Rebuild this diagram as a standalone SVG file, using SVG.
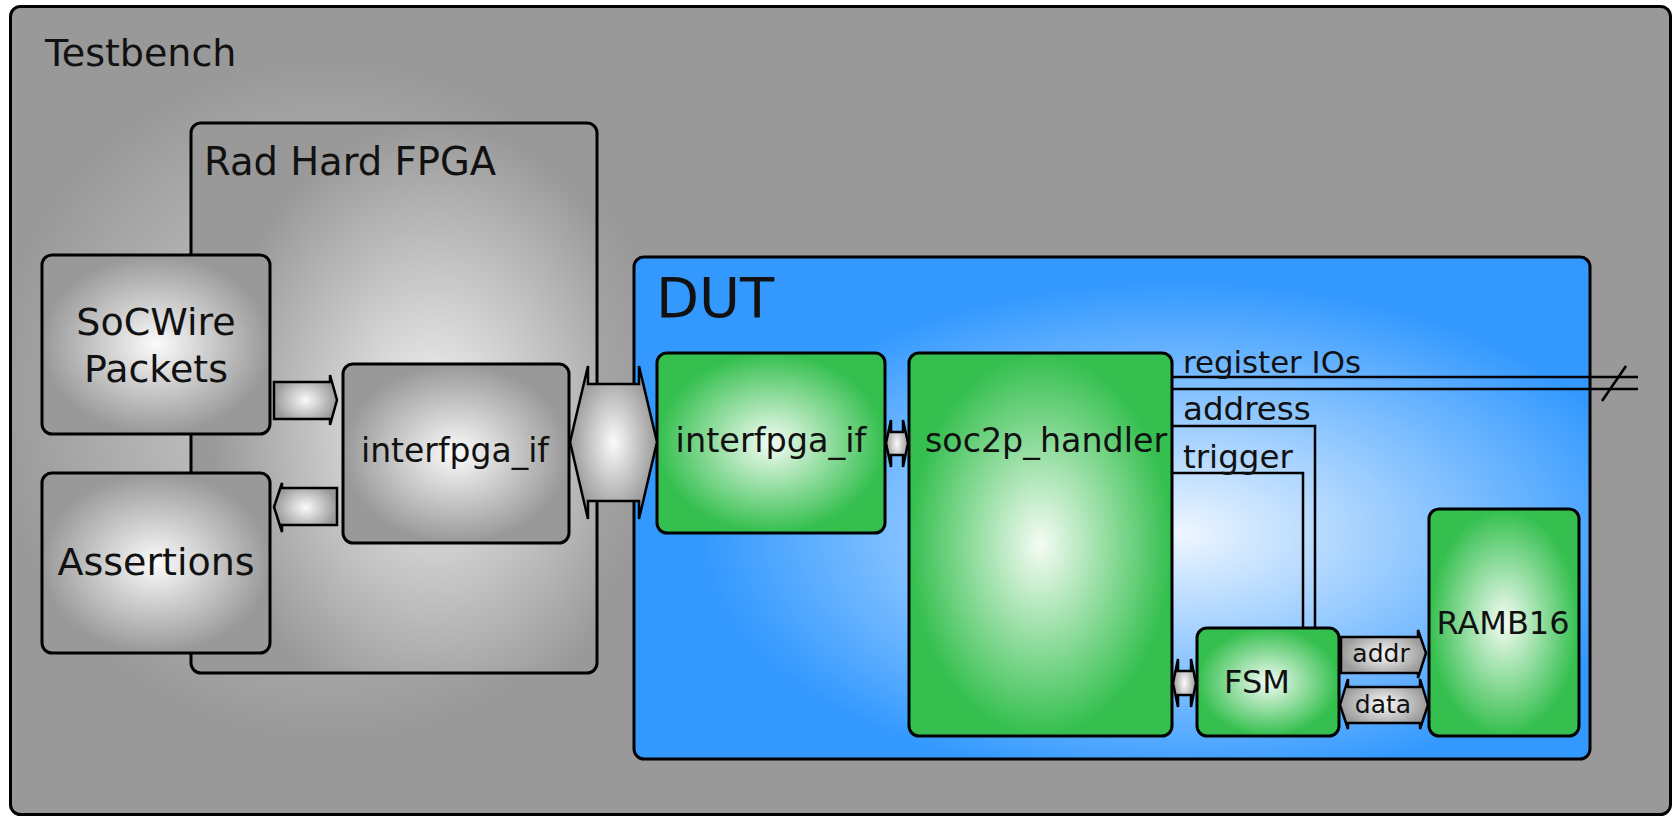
<svg xmlns="http://www.w3.org/2000/svg" width="1673" height="816" viewBox="0 0 1673 816">
  <defs>
    <radialGradient id="benchGlow" gradientUnits="userSpaceOnUse" cx="330" cy="400" r="340">
      <stop offset="0" stop-color="#d2d2d2"/>
      <stop offset="1" stop-color="#999999"/>
    </radialGradient>
    <radialGradient id="fpgaGlow" cx="0.6" cy="0.55" r="0.55">
      <stop offset="0" stop-color="#f4f4f4"/>
      <stop offset="1" stop-color="#999999"/>
    </radialGradient>
    <radialGradient id="grayGlow" cx="0.5" cy="0.5" r="0.5">
      <stop offset="0" stop-color="#fbfbfb"/>
      <stop offset="1" stop-color="#999999"/>
    </radialGradient>
    <radialGradient id="greenGlow" cx="0.5" cy="0.5" r="0.5">
      <stop offset="0" stop-color="#f4fcf4"/>
      <stop offset="1" stop-color="#34bf4e"/>
    </radialGradient>
    <radialGradient id="dutGlow" cx="0.57" cy="0.55" r="0.5">
      <stop offset="0" stop-color="#eef6ff"/>
      <stop offset="1" stop-color="#3399ff"/>
    </radialGradient>
    <style>
      .box { stroke: #000; stroke-width: 3; }
      .gray { fill: url(#grayGlow); }
      .green { fill: url(#greenGlow); }
      .arrow { fill: url(#grayGlow); stroke: #000; stroke-width: 2.5; stroke-linejoin: miter; }
      .wire { fill: none; stroke: #000; stroke-width: 2.5; }
      text { font-family: "DejaVu Sans", "Liberation Sans", sans-serif; fill: #111; }
    </style>
  </defs>

  <!-- Testbench frame -->
  <g id="testbench">
    <rect class="box" x="10.5" y="6.5" width="1660" height="808" rx="10" fill="url(#benchGlow)"/>
    <text x="45" y="66" font-size="38">Testbench</text>
  </g>

  <!-- Rad Hard FPGA container -->
  <g id="radhard-fpga">
    <rect class="box" x="191" y="123" width="406" height="550" rx="10" fill="url(#fpgaGlow)"/>
    <text x="204" y="175" font-size="38.5">Rad Hard FPGA</text>
  </g>

  <g id="socwire-packets">
    <rect class="box gray" x="42" y="255" width="228" height="179" rx="10"/>
    <text x="156" y="335" font-size="38" text-anchor="middle">SoCWire</text>
    <text x="156" y="382" font-size="38" text-anchor="middle">Packets</text>
  </g>

  <g id="assertions">
    <rect class="box gray" x="42" y="473" width="228" height="180" rx="10"/>
    <text x="156" y="575" font-size="38" text-anchor="middle">Assertions</text>
  </g>

  <g id="interfpga-tb">
    <rect class="box gray" x="343" y="364" width="226" height="179" rx="10"/>
    <text x="455" y="462" font-size="33" text-anchor="middle">interfpga_if</text>
  </g>

  <!-- Device under test -->
  <g id="dut">
    <rect class="box" x="634" y="257" width="956" height="502" rx="10" fill="url(#dutGlow)"/>
    <text x="656" y="317" font-size="56">DUT</text>
  </g>

  <g id="interfpga-dut">
    <rect class="box green" x="657" y="353" width="228" height="180" rx="10"/>
    <text x="771" y="452" font-size="33.5" text-anchor="middle">interfpga_if</text>
  </g>

  <g id="soc2p-handler">
    <rect class="box green" x="909" y="353" width="263" height="383" rx="10"/>
    <text x="1046" y="452" font-size="33.3" text-anchor="middle">soc2p_handler</text>
  </g>

  <g id="fsm">
    <rect class="box green" x="1197" y="628" width="142" height="108" rx="10"/>
    <text x="1257" y="693" font-size="32" text-anchor="middle">FSM</text>
  </g>

  <g id="ramb16">
    <rect class="box green" x="1429" y="509" width="150" height="227" rx="10"/>
    <text x="1503" y="634" font-size="32" text-anchor="middle">RAMB16</text>
  </g>

  <!-- Connectors -->
  <g id="connectors">
    <!-- packets into the FPGA interface -->
    <path class="arrow" d="M274,382 L330,382 L330,375 L337,400 L330,425 L330,419 L274,419 Z"/>
    <!-- FPGA interface back to assertions -->
    <path class="arrow" d="M337,488 L282,488 L282,483 L274,507 L282,532 L282,525 L337,525 Z"/>
    <!-- bidirectional link between the two interfaces -->
    <path class="arrow" d="M570,442 L588,366 L588,384 L639,384 L639,366 L657,442 L639,519 L639,501 L588,501 L588,519 Z"/>
    <!-- interfpga_if <-> soc2p_handler -->
    <path class="arrow" stroke-width="1.8" d="M886,443 L891,420 L891,432 L903,432 L903,420 L908,443 L903,467 L903,455 L891,455 L891,467 Z"/>
    <!-- soc2p_handler <-> FSM -->
    <path class="arrow" stroke-width="1.8" d="M1173,683 L1178,659 L1178,671 L1191,671 L1191,659 L1196,683 L1191,707 L1191,695 L1178,695 L1178,707 Z"/>

    <!-- register IO bus -->
    <line class="wire" x1="1172" y1="377" x2="1638" y2="377"/>
    <line class="wire" x1="1172" y1="389" x2="1638" y2="389"/>
    <line class="wire" stroke-width="2" x1="1626" y1="366" x2="1602" y2="401"/>
    <text x="1183" y="373" font-size="30.8">register IOs</text>

    <!-- address and trigger lines down to the FSM -->
    <polyline class="wire" points="1172,426 1315,426 1315,628"/>
    <text x="1183" y="420" font-size="32.5">address</text>
    <polyline class="wire" points="1172,473 1303,473 1303,628"/>
    <text x="1183" y="468" font-size="32.5">trigger</text>

    <!-- FSM to RAMB16 -->
    <path class="arrow" d="M1341,637 L1418,637 L1418,630 L1426,653 L1418,678 L1418,673 L1341,673 Z"/>
    <text x="1381" y="662" font-size="25" text-anchor="middle">addr</text>
    <path class="arrow" d="M1340,705 L1348,679 L1348,687 L1420,687 L1420,679 L1428,705 L1420,729 L1420,723 L1348,723 L1348,729 Z"/>
    <text x="1383" y="713" font-size="25" text-anchor="middle">data</text>
  </g>
</svg>
